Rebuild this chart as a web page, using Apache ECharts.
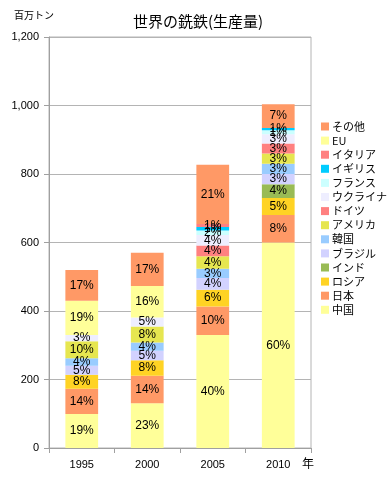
<!DOCTYPE html>
<html><head><meta charset="utf-8">
<script src="https://cdn.jsdelivr.net/npm/echarts@6/dist/echarts.min.js"></script>
<style>html,body{margin:0;padding:0;background:#fff}#c{width:390px;height:480px}</style>
</head><body><div id="c"></div>
<script>
const years = ['1995','2000','2005','2010'];
const yTicks = [0,200,400,600,800,1000,1200];
// stack order bottom -> top
const seriesNames = ['中国','日本','ロシア','インド','ブラジル','韓国','アメリカ','ドイツ','ウクライナ','フランス','イギリス','イタリア','EU','その他'];
const china    = [99, 131, 330, 600];
const japan    = [74, 80, 83, 80];
const russia   = [41, 45, 49, 50];
const india    = [null, null, null, 40];
const brazil   = [26, 28, 34, 30];
const korea    = [22, 24, 27, 30];
const usa      = [50, 47, 37, 30];
const germany  = [null, null, 31, 29];
const ukraine  = [18, 26, 31, 27];
const france   = [null, null, 13, 12];
const uk       = [null, null, 10, 6];
const italy    = [null, null, 9, null];
const eu       = [100, 92, null, null];
const others   = [90, 97, 173, 70];
const seriesData = [china, japan, russia, india, brazil, korea, usa, germany, ukraine, france, uk, italy, eu, others];
const colors = ['#FFFF99','#FF9966','#FFD324','#99BB55','#D2D2FF','#99CCFF','#E6E650','#FF8080','#EEEEFF','#CCFFFF','#00CCFF','#FF8080','#FFFF99','#FF9966'];

const totals = years.map((_, i) => seriesData.reduce((s, arr) => s + (arr[i] || 0), 0));
const font = '"Liberation Sans","Noto Sans CJK JP",sans-serif';

const chart = echarts.init(document.getElementById('c'), null, {renderer: 'canvas'});
chart.setOption({
  animation: false,
  backgroundColor: '#fff',
  textStyle: {fontFamily: font},
  title: {
    text: '世界の銑鉄(生産量)', left: 128, top: 9,
    textStyle: {fontSize: 15, fontWeight: 'normal', color: '#000', fontFamily: '"Noto Sans CJK JP",sans-serif'}
  },
  graphic: [
    {type: 'text', left: 14, top: 10, style: {text: '百万トン', font: '10px "Noto Sans CJK JP",sans-serif', fill: '#000'}},
    {type: 'text', left: 302, top: 457, style: {text: '年', font: '12px "Noto Sans CJK JP",sans-serif', fill: '#000'}}
  ],
  legend: {
    orient: 'vertical', left: 321, top: 121, padding: 0,
    itemWidth: 8, itemHeight: 8, itemGap: 3.1,
    icon: 'rect',
    data: seriesNames.slice().reverse(),
    textStyle: {fontSize: 11, lineHeight: 11, color: '#000', padding: [0,0,0,-2], fontFamily: '"Noto Sans CJK JP",sans-serif'}
  },
  grid: {left: 49, right: 79, top: 37, bottom: 32, show: true, borderColor: '#b4b4b4', borderWidth: 1},
  xAxis: {
    type: 'category', data: years,
    axisLine: {lineStyle: {color: '#a0a0a0'}},
    axisTick: {show: true, length: 5, alignWithLabel: false, lineStyle: {color: '#a0a0a0'}},
    axisLabel: {color: '#000', fontSize: 11, margin: 11}
  },
  yAxis: {
    type: 'value', min: yTicks[0], max: yTicks[yTicks.length-1], interval: 200,
    axisLine: {show: true, lineStyle: {color: '#a0a0a0'}},
    axisTick: {show: true, length: 5, lineStyle: {color: '#a0a0a0'}},
    splitLine: {lineStyle: {color: '#b4b4b4'}},
    axisLabel: {color: '#000', fontSize: 11, margin: 10, formatter: v => v.toLocaleString('en-US')}
  },
  series: seriesNames.map((n, k) => ({
    name: n, type: 'bar', stack: 'total', barWidth: '50%',
    data: seriesData[k],
    itemStyle: {color: colors[k]},
    label: {
      show: true, position: 'inside', color: '#000', fontSize: 12,
      formatter: p => (p.value == null ? '' : Math.round(p.value / totals[p.dataIndex] * 100) + '%')
    },
    labelLayout: {hideOverlap: false}
  }))
});
</script></body></html>
